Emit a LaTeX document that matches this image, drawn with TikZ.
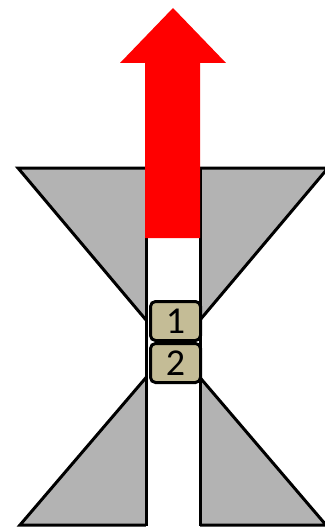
\documentclass[tikz,border=0pt]{standalone}
\usepackage{fontspec}
\setmainfont{Carlito}
\definecolor{trigray}{HTML}{B3B3B3}
\definecolor{boxtan}{HTML}{C4BC96}
\definecolor{arrowred}{HTML}{FF0000}
\begin{document}
\begin{tikzpicture}[x=1pt,y=-1pt,
  tri/.style={fill=trigray,draw=black,line width=3pt,line join=miter},
  chan/.style={fill=white,draw=none},
  chanline/.style={draw=black,line width=3pt},
  numbox/.style={draw=black,line width=3pt,fill=boxtan,rounded corners=5pt,
    minimum width=50pt,minimum height=39pt,inner sep=0pt,font=\fontsize{38}{40}\selectfont}]
\useasboundingbox (0,0) rectangle (324,527);
% hourglass triangles
\path[tri] (18,168) -- (328,168) -- (173,352) -- cycle;
\path[tri] (20,525) -- (326,525) -- (173,346) -- cycle;
% channel
\fill[chan] (146,168) rectangle (200,540);
\draw[chanline] (146,168) -- (146,526);
\draw[chanline] (200,168) -- (200,526);
% red arrow
\fill[arrowred] (145,238) -- (145,63) -- (120,63) -- (173,8) -- (226,63) -- (200,63) -- (200,238) -- cycle;
% boxes
\node[numbox] (b1) at (175.5,321) {1};
\node[numbox] (b2) at (175.5,363) {2};
\end{tikzpicture}
\end{document}
